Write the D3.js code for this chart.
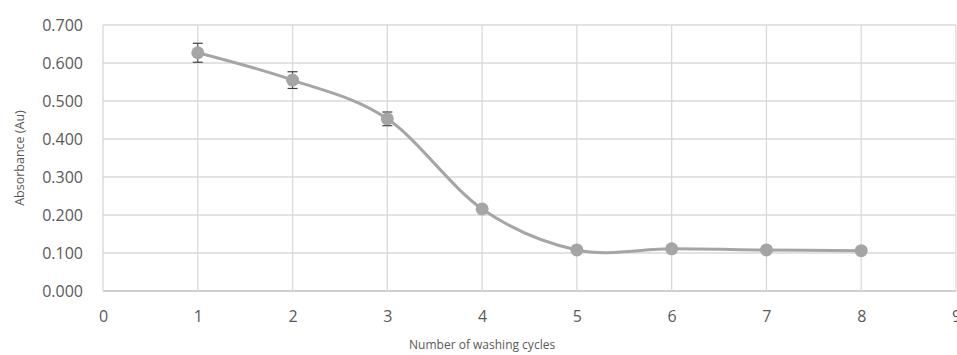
<!DOCTYPE html>
<html>
<head>
<meta charset="utf-8">
<script src="https://cdn.jsdelivr.net/npm/d3@7"></script>
<style>
  body { margin: 0; background: #fff; }
  text { font-family: "Open Sans", "Liberation Sans", sans-serif; fill: #595959; }
</style>
</head>
<body>
<div id="chart"></div>
<script>
// data
var cycles = [1, 2, 3, 4, 5, 6, 7, 8];
var absorbance = [0.627, 0.555, 0.453, 0.216, 0.108, 0.111, 0.108, 0.106];
var errors = [0.025, 0.022, 0.018, 0.006, 0.004, 0.004, 0.004, 0.004];
var xTicks = [0, 1, 2, 3, 4, 5, 6, 7, 8, 9];
var yTicks = [0, 0.1, 0.2, 0.3, 0.4, 0.5, 0.6, 0.7];

var svgWidth = 957;
var svgHeight = 355;

var margin = { top: 25, right: 1, bottom: 64, left: 103 };
var width = svgWidth - margin.left - margin.right;
var height = svgHeight - margin.top - margin.bottom;

var svg = d3.select("#chart")
  .append("svg")
  .attr("width", svgWidth)
  .attr("height", svgHeight);

var chartGroup = svg.append("g")
  .attr("transform", `translate(${margin.left}, ${margin.top})`);

var x = d3.scaleLinear().domain([0, 9]).range([0, width]);
var y = d3.scaleLinear().domain([0, 0.7]).range([height, 0]);

// gridlines
chartGroup.selectAll(".hgrid")
  .data(yTicks)
  .enter()
  .append("line")
  .attr("x1", 0)
  .attr("x2", width)
  .attr("y1", d => y(d))
  .attr("y2", d => y(d))
  .attr("stroke", d => d === 0 ? "#bfbfbf" : "#d9d9d9")
  .attr("stroke-width", 1.3);

chartGroup.selectAll(".vgrid")
  .data(xTicks)
  .enter()
  .append("line")
  .attr("x1", d => x(d))
  .attr("x2", d => x(d))
  .attr("y1", 0)
  .attr("y2", height)
  .attr("stroke", "#d9d9d9")
  .attr("stroke-width", 1.3);

// axes (labels only)
var bottomAxis = d3.axisBottom(x).tickValues(xTicks).tickSize(0).tickPadding(20).tickFormat(d3.format("d"));
var leftAxis = d3.axisLeft(y).tickValues(yTicks).tickSize(0).tickPadding(20).tickFormat(d3.format(".3f"));

var xAxis = chartGroup.append("g")
  .attr("transform", `translate(0, ${height})`)
  .call(bottomAxis);
var yAxis = chartGroup.append("g").call(leftAxis);

[xAxis, yAxis].forEach(function(a) {
  a.select(".domain").remove();
  a.selectAll("text")
    .attr("font-size", "16px")
    .attr("font-family", "\"Open Sans\", \"Liberation Sans\", sans-serif")
    .attr("fill", "#595959");
});

// smoothed line
var line = d3.line()
  .x((d, i) => x(cycles[i]))
  .y(d => y(d))
  .curve(d3.curveCardinal.tension(0));

chartGroup.append("path")
  .datum(absorbance)
  .attr("d", line)
  .attr("fill", "none")
  .attr("stroke", "#a5a5a5")
  .attr("stroke-width", 3);

// error bars
var errGroup = chartGroup.selectAll(".err")
  .data(absorbance)
  .enter()
  .append("g");

errGroup.append("line")
  .attr("x1", (d, i) => x(cycles[i]))
  .attr("x2", (d, i) => x(cycles[i]))
  .attr("y1", (d, i) => y(d + errors[i]))
  .attr("y2", (d, i) => y(d - errors[i]))
  .attr("stroke", "#404040")
  .attr("stroke-width", 1);

errGroup.append("line")
  .attr("x1", (d, i) => x(cycles[i]) - 5)
  .attr("x2", (d, i) => x(cycles[i]) + 5)
  .attr("y1", (d, i) => y(d + errors[i]))
  .attr("y2", (d, i) => y(d + errors[i]))
  .attr("stroke", "#404040")
  .attr("stroke-width", 1.2);

errGroup.append("line")
  .attr("x1", (d, i) => x(cycles[i]) - 5)
  .attr("x2", (d, i) => x(cycles[i]) + 5)
  .attr("y1", (d, i) => y(d - errors[i]))
  .attr("y2", (d, i) => y(d - errors[i]))
  .attr("stroke", "#404040")
  .attr("stroke-width", 1.2);

// markers
chartGroup.selectAll("circle")
  .data(absorbance)
  .enter()
  .append("circle")
  .attr("cx", (d, i) => x(cycles[i]))
  .attr("cy", d => y(d))
  .attr("r", 6.5)
  .attr("fill", "#a5a5a5");

// axis titles
svg.append("text")
  .attr("x", margin.left + x(4))
  .attr("y", 349)
  .attr("text-anchor", "middle")
  .attr("font-size", "12px")
  .text("Number of washing cycles");

svg.append("text")
  .attr("transform", `translate(24, ${margin.top + height / 2}) rotate(-90)`)
  .attr("text-anchor", "middle")
  .attr("font-size", "12.5px")
  .text("Absorbance (Au)");
</script>
</body>
</html>
